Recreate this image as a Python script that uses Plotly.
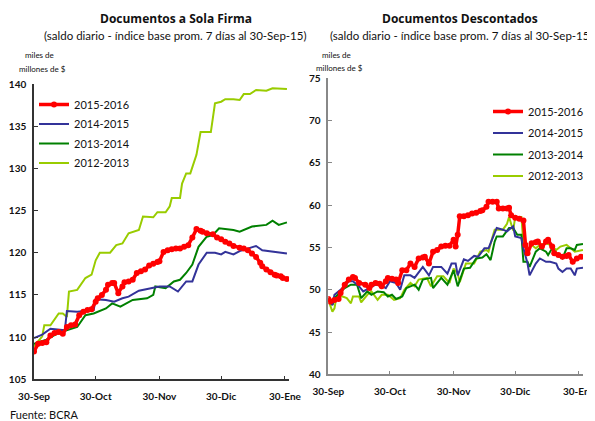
import pandas as pd
import plotly.graph_objects as go

BASE = pd.Timestamp("2015-09-30")

series_names = ["2015-2016", "2014-2015", "2013-2014", "2012-2013"]
colors = ["#FF0000", "#333399", "#008000", "#99CC00"]

# ---- Documentos a Sola Firma (left) ----
sf_red_days = [0, 2, 4, 6, 8, 10, 12, 14, 16, 18, 20, 22, 24, 26, 28, 30, 31, 33, 35, 36, 38, 39, 41, 43, 44, 46, 48, 50, 52, 54, 56, 58, 60, 61, 63, 65, 67, 69, 71, 73, 75, 77, 79, 81, 82, 84, 87, 89, 91, 93, 95, 97, 100, 102, 104, 106, 108, 110, 111, 113, 115, 117, 118, 120, 121, 123]
sf_red_vals = [108.3, 109.2, 109.3, 109.4, 110.2, 110.5, 110.6, 110.4, 111.2, 111.4, 111.5, 112.6, 113.0, 113.2, 113.3, 114.2, 114.6, 115.0, 115.6, 116.2, 116.4, 116.4, 115.2, 116.0, 116.5, 116.6, 116.8, 117.6, 117.8, 118.0, 118.5, 118.7, 118.9, 119.0, 120.1, 120.3, 120.4, 120.5, 120.5, 120.7, 120.9, 121.8, 122.8, 122.6, 122.5, 122.3, 122.2, 121.8, 121.6, 121.3, 121.1, 120.8, 120.6, 120.5, 120.3, 119.9, 119.5, 118.8, 118.4, 118.0, 117.7, 117.4, 117.3, 117.2, 117.0, 116.9]

sf_blue_days = [0, 4, 8, 14, 15, 16, 21, 29, 30, 35, 39, 43, 46, 51, 58, 61, 66, 70, 74, 77, 80, 84, 88, 91, 93, 97, 100, 104, 108, 111, 117, 123]
sf_blue_vals = [109.9, 110.3, 111.0, 110.8, 110.8, 113.1, 113.0, 113.2, 114.5, 114.4, 114.2, 114.6, 114.8, 115.5, 115.8, 116.0, 116.0, 115.4, 116.6, 116.6, 118.6, 120.0, 120.0, 119.8, 120.1, 119.8, 120.2, 120.5, 120.8, 120.3, 120.1, 119.9]

sf_green_days = [0, 6, 12, 16, 21, 25, 29, 35, 38, 42, 48, 55, 58, 59, 64, 68, 71, 74, 77, 80, 84, 87, 90, 97, 100, 106, 113, 116, 119, 123]
sf_green_vals = [109.2, 109.7, 110.5, 110.8, 111.2, 112.6, 112.8, 113.4, 114.0, 113.6, 114.4, 114.6, 115.0, 116.0, 115.8, 116.6, 116.8, 117.6, 118.6, 120.7, 121.9, 122.1, 122.9, 122.7, 122.5, 123.1, 123.3, 123.8, 123.3, 123.6]

sf_lgreen_days = [0, 4, 5, 8, 12, 14, 16, 17, 21, 25, 28, 30, 32, 37, 40, 43, 46, 51, 53, 58, 60, 64, 66, 67, 71, 72, 74, 76, 79, 81, 86, 88, 91, 93, 97, 100, 102, 105, 108, 113, 116, 123]
sf_lgreen_vals = [108.9, 110.1, 111.4, 111.4, 112.8, 112.8, 112.4, 115.4, 115.6, 117.0, 117.4, 119.1, 120.0, 120.0, 120.9, 121.1, 122.3, 122.7, 124.3, 124.2, 124.8, 124.8, 125.5, 126.5, 126.5, 128.2, 129.4, 129.4, 131.6, 134.3, 134.3, 137.7, 137.9, 138.2, 138.2, 138.1, 138.8, 138.8, 139.3, 139.2, 139.5, 139.4]

# ---- Documentos Descontados (right) ----
dd_red_days = [0, 1, 3, 5, 6, 8, 10, 12, 13, 15, 18, 20, 21, 23, 25, 26, 28, 29, 31, 33, 34, 36, 38, 40, 42, 44, 46, 47, 49, 51, 53, 55, 57, 59, 61, 62, 63, 64, 66, 68, 70, 72, 74, 75, 77, 78, 80, 82, 83, 85, 87, 88, 89, 91, 93, 95, 96, 97, 99, 101, 102, 104, 106, 107, 109, 110, 112, 114, 116, 117, 119, 121, 123]
dd_red_vals = [48.9, 48.6, 48.8, 48.9, 49.6, 50.6, 51.2, 51.5, 51.4, 50.8, 50.6, 50.2, 50.6, 50.8, 50.7, 50.4, 51.0, 51.4, 51.3, 51.2, 50.8, 52.3, 52.3, 53.1, 52.7, 53.7, 53.8, 53.9, 53.1, 54.5, 54.7, 55.1, 55.2, 55.2, 55.9, 55.1, 56.5, 58.7, 58.7, 58.8, 59.0, 59.1, 59.3, 59.4, 59.8, 60.4, 60.4, 60.4, 59.6, 59.6, 59.6, 59.7, 58.8, 58.5, 58.4, 58.2, 55.3, 54.3, 55.5, 55.6, 55.7, 55.1, 55.7, 55.9, 55.1, 54.3, 54.1, 53.9, 54.0, 54.1, 53.3, 53.7, 53.9]

dd_blue_days = [0, 2, 3, 5, 7, 10, 12, 15, 17, 20, 23, 25, 28, 30, 33, 35, 37, 40, 42, 46, 49, 51, 55, 58, 60, 62, 63, 66, 68, 71, 73, 76, 78, 80, 82, 85, 87, 89, 90, 91, 94, 95, 97, 98, 101, 103, 106, 108, 111, 112, 114, 116, 118, 120, 121, 124]
dd_blue_vals = [48.8, 48.2, 49.4, 49.8, 50.2, 51.0, 51.0, 50.4, 49.8, 50.2, 50.6, 50.6, 50.2, 51.0, 50.8, 50.0, 51.7, 51.7, 51.4, 52.7, 51.7, 52.7, 52.7, 51.9, 53.1, 53.1, 51.7, 53.6, 53.4, 54.0, 53.9, 54.9, 54.9, 56.1, 57.3, 57.1, 56.9, 57.3, 57.5, 56.3, 56.1, 54.9, 53.1, 51.7, 53.1, 53.7, 53.3, 53.3, 53.1, 52.5, 52.1, 52.5, 52.5, 51.7, 52.5, 52.6]

dd_green_days = [0, 2, 3, 6, 8, 11, 14, 16, 19, 21, 24, 27, 29, 31, 33, 36, 38, 42, 44, 46, 50, 51, 55, 58, 61, 63, 66, 69, 72, 75, 77, 79, 81, 82, 85, 88, 90, 92, 94, 95, 97, 98, 101, 103, 106, 107, 109, 112, 114, 116, 118, 120, 121, 124]
dd_green_vals = [49.0, 48.2, 49.0, 49.8, 50.2, 50.6, 50.6, 49.0, 49.8, 49.4, 49.8, 49.7, 49.2, 49.4, 48.9, 49.2, 50.2, 50.6, 50.0, 51.2, 51.4, 50.2, 51.4, 50.6, 52.3, 50.4, 52.5, 52.6, 53.7, 53.8, 54.2, 53.5, 55.7, 56.3, 56.3, 57.3, 57.3, 56.5, 56.5, 53.3, 53.3, 52.7, 54.5, 54.9, 54.5, 54.1, 54.9, 54.1, 53.7, 54.9, 54.9, 54.7, 55.3, 55.4]

dd_lgreen_days = [0, 2, 3, 4, 7, 9, 11, 12, 15, 16, 19, 21, 24, 26, 29, 32, 35, 37, 40, 42, 44, 48, 50, 53, 56, 59, 61, 63, 64, 67, 71, 74, 77, 78, 80, 81, 85, 87, 88, 89, 90, 91, 94, 95, 97, 99, 101, 103, 106, 108, 111, 113, 116, 118, 120, 124]
dd_lgreen_vals = [48.8, 47.4, 47.8, 49.2, 49.2, 49.0, 48.4, 49.2, 49.2, 48.5, 49.4, 49.8, 48.8, 49.4, 49.4, 48.8, 49.0, 50.0, 50.8, 50.4, 51.2, 51.4, 50.4, 51.6, 51.6, 50.8, 52.5, 51.9, 50.9, 53.1, 53.1, 54.5, 54.7, 54.5, 56.3, 57.1, 57.1, 57.8, 58.6, 57.8, 57.0, 58.6, 58.6, 55.5, 54.7, 55.3, 54.9, 55.3, 55.5, 55.3, 54.7, 55.1, 55.3, 54.9, 54.5, 54.7]

tick_dates = ["2015-09-30", "2015-10-30", "2015-11-30", "2015-12-30", "2016-01-30"]
tick_text = ["30-Sep", "30-Oct", "30-Nov", "30-Dic", "30-Ene"]
x_range = ["2015-09-30", "2016-02-01"]
sf_yticks = [105, 110, 115, 120, 125, 130, 135, 140]
dd_yticks = [40, 45, 50, 55, 60, 65, 70, 75]


def dates(days):
    return BASE + pd.to_timedelta(days, unit="D")


FONT = "Lato"
fig = go.Figure()

left = [(sf_red_days, sf_red_vals), (sf_blue_days, sf_blue_vals),
        (sf_green_days, sf_green_vals), (sf_lgreen_days, sf_lgreen_vals)]
right = [(dd_red_days, dd_red_vals), (dd_blue_days, dd_blue_vals),
         (dd_green_days, dd_green_vals), (dd_lgreen_days, dd_lgreen_vals)]

order = [3, 2, 1, 0]
for side, data, xa_, ya_, lg in [("L", left, "x", "y", "legend"), ("R", right, "x2", "y2", "legend2")]:
    for i in order:
        d, v = data[i]
        common = dict(x=dates(d), y=v, name=series_names[i], xaxis=xa_, yaxis=ya_,
                      legend=lg, legendrank=i + 1, legendgroup=side + str(i))
        if i == 0:
            fig.add_trace(go.Scatter(mode="lines+markers",
                                     line=dict(color=colors[i], width=3.5),
                                     marker=dict(color=colors[i], size=6), **common))
        else:
            fig.add_trace(go.Scatter(mode="lines",
                                     line=dict(color=colors[i], width=2), **common))

# page body has an 8px margin: the figure div starts at (8, 8) of the window
OFF = 8
W, H = 595 - OFF, 421 - OFF


def px(x):
    return (x - OFF) / W


def py(y):
    return 1 - (y - OFF) / H


tickfont = dict(family=FONT, size=10, color="#111", weight="bold")


def xa(domain, anchor, lc):
    return dict(domain=domain, anchor=anchor, type="date", range=x_range,
                tickvals=tick_dates, ticktext=tick_text, ticks="inside", ticklen=4,
                tickcolor=lc, showline=True, linecolor=lc, linewidth=1.5,
                showgrid=False, zeroline=False, tickfont=tickfont,
                ticklabelstandoff=7, automargin=False, ticklabeloverflow="allow")


def ya(domain, anchor, rng, tv, lc):
    return dict(domain=domain, anchor=anchor, range=rng, tickvals=tv,
                ticks="inside", ticklen=4, tickcolor=lc, showline=True,
                linecolor=lc, linewidth=1.5, showgrid=False, zeroline=False,
                tickfont=tickfont, ticklabelstandoff=4, automargin=False,
                ticklabeloverflow="allow")


fig.update_layout(
    width=W, height=H, margin=dict(l=0, r=0, t=0, b=0, autoexpand=False),
    paper_bgcolor="white", plot_bgcolor="white",
    font=dict(family=FONT, color="#111"),
    xaxis=xa([px(34), px(289)], "y", "#333"),
    yaxis=ya([py(379.3), py(84)], "x", [105, 140], sf_yticks, "#333"),
    xaxis2=xa([px(328.3), px(583)], "y2", "#888"),
    yaxis2=ya([py(374.3), py(78.3)], "x2", [40, 75], dd_yticks, "#888"),
    legend=dict(x=px(34), y=py(90), xanchor="left", yanchor="top",
                font=dict(family=FONT, size=11, color="#111"),
                bgcolor="rgba(0,0,0,0)", tracegroupgap=0.5),
    legend2=dict(x=px(488), y=py(97), xanchor="left", yanchor="top",
                 font=dict(family=FONT, size=11, color="#111"),
                 bgcolor="rgba(0,0,0,0)", tracegroupgap=2.5),
    showlegend=True,
)

ann = [
    dict(text="<b>Documentos a Sola Firma</b>", x=176, y=8.5, size=12, fam="Open Sans", ya="top"),
    dict(text="(saldo diario - índice base prom. 7 días al 30-Sep-15)", x=175, y=35, size=11.5, fam=FONT, ya="middle"),
    dict(text="<b>Documentos Descontados</b>", x=460, y=8.5, size=12, fam="Open Sans", ya="top"),
    dict(text="(saldo diario - índice base prom. 7 días al 30-Sep-15)", x=461, y=35, size=11.5, fam=FONT, ya="middle"),
    dict(text="miles de", x=39, y=55, size=8, fam=FONT, ya="middle"),
    dict(text="millones de $", x=42, y=69, size=8, fam=FONT, ya="middle"),
    dict(text="miles de", x=336, y=55, size=8, fam=FONT, ya="middle"),
    dict(text="millones de $", x=339, y=68, size=8, fam=FONT, ya="middle"),
]
for a in ann:
    fig.add_annotation(text=a["text"], x=px(a["x"]), y=py(a["y"]), xref="paper", yref="paper",
                       xanchor="center", yanchor=a["ya"], showarrow=False, borderpad=0,
                       font=dict(family=a["fam"], size=a["size"], color="#111"))
fig.add_annotation(text="Fuente: BCRA", x=px(8), y=py(414), xref="paper", yref="paper",
                   xanchor="left", yanchor="middle", showarrow=False,
                   font=dict(family=FONT, size=11, color="#111"))

fig.write_html("out.html")
